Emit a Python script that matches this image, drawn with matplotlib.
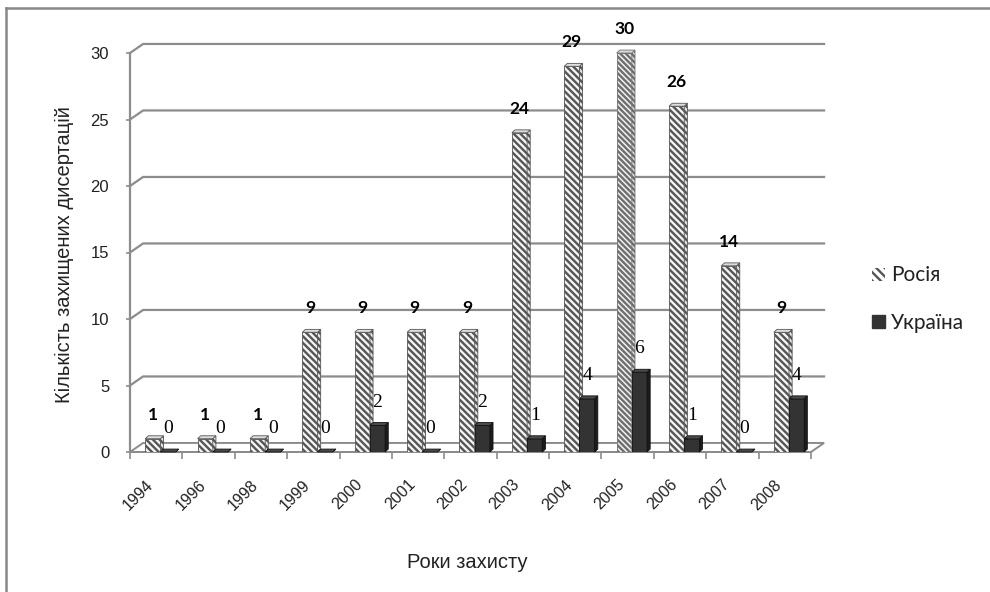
import matplotlib.pyplot as plt
from matplotlib.patches import Polygon, Patch
from matplotlib.lines import Line2D

# дані
years = ['1994', '1996', '1998', '1999', '2000', '2001', '2002',
         '2003', '2004', '2005', '2006', '2007', '2008']
russia = [1, 1, 1, 9, 9, 9, 9, 24, 29, 30, 26, 14, 9]
ukraine = [0, 0, 0, 0, 2, 0, 2, 1, 4, 6, 1, 0, 4]

plt.rcParams['hatch.linewidth'] = 1.7

fig = plt.figure(figsize=(9.9, 5.92), dpi=100)
ax = fig.add_axes([130 / 990, 1 - 452 / 592, 681 / 990, 399 / 592])
ax.set_xlim(0, len(years))
ax.set_ylim(0, 30)

grid_c = '#8c8c8c'
wall_dx, wall_dy = 0.25, 0.68   # зсув задньої стінки (псевдо-3D)
bar_dx, bar_dy = 0.06, 0.22     # глибина стовпчика
w = 0.29

# сітка з косим початком
for v in range(5, 31, 5):
    ax.plot([0, wall_dx, len(years) + wall_dx], [v, v + wall_dy, v + wall_dy],
            color=grid_c, lw=1.6, clip_on=False, zorder=1)
# підлога
floor = Polygon([(0, 0), (len(years), 0), (len(years) + wall_dx, wall_dy), (wall_dx, wall_dy)],
                closed=True, fill=False, edgecolor=grid_c, lw=1.4, clip_on=False, zorder=1)
ax.add_patch(floor)


def bar3d(x0, v, face, side, top, hatch=None, edge='#444444'):
    x1 = x0 + w
    ax.bar(x0, v, width=w, align='edge', color=face, hatch=hatch,
           edgecolor=edge, lw=0.6, zorder=3)
    ax.add_patch(Polygon([(x1, 0), (x1 + bar_dx, bar_dy), (x1 + bar_dx, v + bar_dy), (x1, v)],
                         closed=True, facecolor=side, edgecolor=edge, lw=0.6,
                         hatch=hatch, zorder=3, clip_on=False))
    ax.add_patch(Polygon([(x0, v), (x1, v), (x1 + bar_dx, v + bar_dy), (x0 + bar_dx, v + bar_dy)],
                         closed=True, facecolor=top, edgecolor=edge, lw=0.6,
                         zorder=3, clip_on=False))


for i, (r, u) in enumerate(zip(russia, ukraine)):
    if years[i] == '2005':
        bar3d(i + 0.29, r, '#f0f0f0', '#e4e4e4', '#dddddd', hatch='\\\\\\\\\\\\', edge='#6e6e6e')
    else:
        bar3d(i + 0.29, r, '#f4f4f4', '#e8e8e8', '#dddddd', hatch='\\\\\\\\\\', edge='#555555')
    bar3d(i + 0.58, u, '#333333', '#1c1c1c', '#4a4a4a', edge='#111111')
    ax.text(i + 0.29 + w / 2, r + 1.8, str(r), ha='center', va='center',
            fontsize=12.5, fontweight='bold', family='Lato', zorder=5, clip_on=False)
    ax.text(i + 0.58 + w / 2, u + 1.75, str(u), ha='center', va='center',
            fontsize=14, family='Liberation Serif', zorder=5, clip_on=False)

# осі
for s in ['top', 'right']:
    ax.spines[s].set_visible(False)
ax.spines['left'].set_color(grid_c)
ax.spines['left'].set_linewidth(1.6)
ax.spines['bottom'].set_color(grid_c)
ax.spines['bottom'].set_linewidth(1.4)

ax.set_yticks(range(0, 31, 5))
ax.tick_params(axis='y', length=3, width=1.2, color=grid_c, pad=12,
               labelsize=12, labelfontfamily='Liberation Sans', labelcolor='#222222')
ax.set_xticks(range(len(years) + 1))
ax.set_xticklabels([])
ax.tick_params(axis='x', which='major', length=5, width=1.2, color=grid_c)
ax.set_xticks([i + 0.5 for i in range(len(years))], minor=True)
ax.set_xticklabels(years, minor=True, rotation=45, ha='right', va='top',
                   fontsize=11.5, family='Liberation Sans', color='#222222')
ax.tick_params(axis='x', which='minor', length=0, pad=18)

fig.text(64 / 990, 1 - 255 / 592, 'Кількість захищених дисертацій', rotation=90,
         ha='center', va='center', fontsize=14.5, family='Liberation Sans', color='#222222')
fig.text(467 / 990, 1 - 562 / 592, 'Роки захисту', ha='center', va='center',
         fontsize=14.5, family='Liberation Sans', color='#222222')

# легенда
handles = [Patch(facecolor='white', edgecolor='#555555', hatch='\\\\\\\\', lw=0, label='Росія'),
           Patch(facecolor='#333333', edgecolor='#333333', label='Україна')]
leg = fig.legend(handles=handles, loc='center left', bbox_to_anchor=(862 / 990, 1 - 299 / 592),
                 frameon=False, fontsize=15, handlelength=0.6, handleheight=0.6,
                 handletextpad=0.3, labelspacing=1.3, borderpad=0)
for t in leg.get_texts():
    t.set_family('Lato')
    t.set_color('#222222')

# рамка області діаграми
fig.add_artist(Line2D([6 / 990, 6 / 990], [0, 1 - 8 / 592], transform=fig.transFigure,
                      color='#888888', lw=1.8))
fig.add_artist(Line2D([6 / 990, 1], [1 - 8 / 592, 1 - 8 / 592], transform=fig.transFigure,
                      color='#888888', lw=1.8))

fig.savefig('out.png', dpi=100)
